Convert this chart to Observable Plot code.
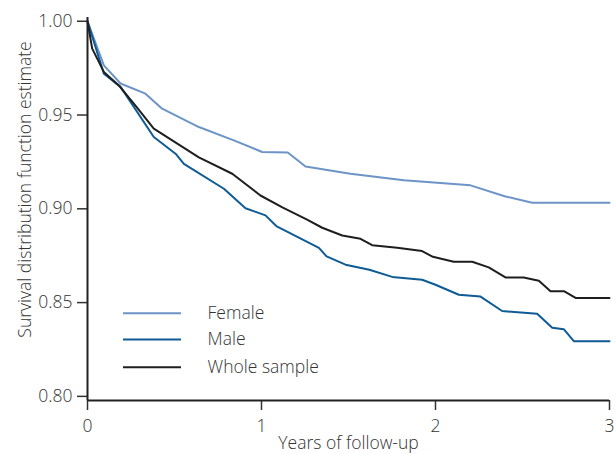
<!DOCTYPE html>
<html><head><meta charset="utf-8">
<script src="https://cdn.jsdelivr.net/npm/d3@7"></script>
<script src="https://cdn.jsdelivr.net/npm/@observablehq/plot@0.6"></script>
<style>
body{margin:0;background:#fff;}
#chart svg{display:block;}
</style></head><body><div id="chart"></div>
<script>
const seriesNames = ["Female", "Male", "Whole sample"];
const seriesColors = ["#6c94c7", "#0e5b95", "#1e1e1e"];

const femaleT = [0, 0.094, 0.19, 0.333, 0.429, 0.64, 0.841, 1.004, 1.151, 1.253, 1.511, 1.818, 2.201, 2.402, 2.556, 3.0];
const femaleS = [1.000, 0.9765, 0.9668, 0.9614, 0.9534, 0.9436, 0.9365, 0.9303, 0.9300, 0.9226, 0.9187, 0.9152, 0.9125, 0.9066, 0.9032, 0.9032];

const maleT = [0, 0.094, 0.19, 0.381, 0.506, 0.554, 0.784, 0.908, 1.023, 1.085, 1.33, 1.374, 1.483, 1.62, 1.751, 1.923, 2.0, 2.134, 2.259, 2.383, 2.584, 2.671, 2.737, 2.795, 3.0];
const maleS = [1.000, 0.972, 0.965, 0.9383, 0.9294, 0.9240, 0.9107, 0.9003, 0.8965, 0.8908, 0.8792, 0.8746, 0.8702, 0.8675, 0.8637, 0.8622, 0.8595, 0.8542, 0.8532, 0.8455, 0.8440, 0.8366, 0.8358, 0.8294, 0.8294];

const wholeT = [0, 0.027, 0.094, 0.18, 0.285, 0.381, 0.64, 0.832, 0.994, 1.12, 1.262, 1.349, 1.464, 1.569, 1.636, 1.78, 1.923, 1.985, 2.105, 2.211, 2.306, 2.402, 2.507, 2.594, 2.661, 2.738, 2.805, 3.0];
const wholeS = [1.000, 0.9854, 0.9730, 0.9658, 0.9540, 0.9428, 0.9274, 0.9187, 0.9071, 0.9008, 0.8942, 0.8899, 0.8858, 0.8840, 0.8806, 0.8792, 0.8775, 0.8744, 0.8718, 0.8718, 0.8688, 0.8634, 0.8634, 0.8616, 0.8561, 0.8561, 0.8525, 0.8525];

const xTicks = [0, 1, 2, 3];
const yTicks = [0.80, 0.85, 0.90, 0.95, 1.00];
const xDomain = [0, 3];
const yDomain = [0.7978, 1.002];
const xLabel = "Years of follow-up";
const yLabel = "Survival distribution function estimate";

// legend placement (data units)
const legendX = [0.207, 0.54];
const legendTextX = 0.69;
const legendY = [0.8443, 0.8303, 0.8155];

const rows = [];
[[femaleT, femaleS], [maleT, maleS], [wholeT, wholeS]].forEach(([T, S], i) => {
  T.forEach((t, j) => rows.push({series: seriesNames[i], t, s: S[j]}));
});
const legendRows = seriesNames.map((name, i) => ({series: name, ly: legendY[i]}));

const textColor = "#333";

const chart = Plot.plot({
  width: 616,
  height: 454,
  marginLeft: 87,
  marginRight: 7,
  marginTop: 17,
  marginBottom: 54,
  style: {fontFamily: "'Open Sans', sans-serif", fontSize: "17.5px", fontWeight: 300, color: textColor, background: "#fff"},
  x: {domain: xDomain},
  y: {domain: yDomain},
  color: {domain: seriesNames, range: seriesColors},
  marks: [
    Plot.axisY({ticks: yTicks, tickFormat: d3.format(".2f"), tickSize: 10, tickPadding: 5, label: null, stroke: "#333", strokeWidth: 1.5, fill: textColor}),
    Plot.axisX({ticks: xTicks, tickFormat: d3.format("d"), tickSize: 10, tickPadding: 9, label: null, stroke: "#333", strokeWidth: 1.5, fill: textColor}),
    Plot.line(rows, {x: "t", y: "s", z: "series", stroke: "series", strokeWidth: 2, strokeLinejoin: "round"}),
    Plot.ruleX([xDomain[0]], {y1: yDomain[0], y2: yDomain[1], stroke: "#222", strokeWidth: 2}),
    Plot.ruleY([yDomain[0]], {x1: xDomain[0], x2: xDomain[1], stroke: "#222", strokeWidth: 2}),
    Plot.ruleY(legendRows, {y: "ly", x1: legendX[0], x2: legendX[1], stroke: "series", strokeWidth: 2}),
    Plot.text(legendRows, {x: legendTextX, y: "ly", text: "series", textAnchor: "start", fill: textColor}),
    Plot.text([xLabel], {frameAnchor: "bottom", textAnchor: "middle", lineAnchor: "top", dy: 36, fill: textColor}),
    Plot.text([yLabel], {frameAnchor: "left", textAnchor: "middle", lineAnchor: "top", rotate: -90, dx: -69, dy: -19.5, fill: textColor})
  ]
});
document.getElementById("chart").appendChild(chart);
</script>
</body></html>
